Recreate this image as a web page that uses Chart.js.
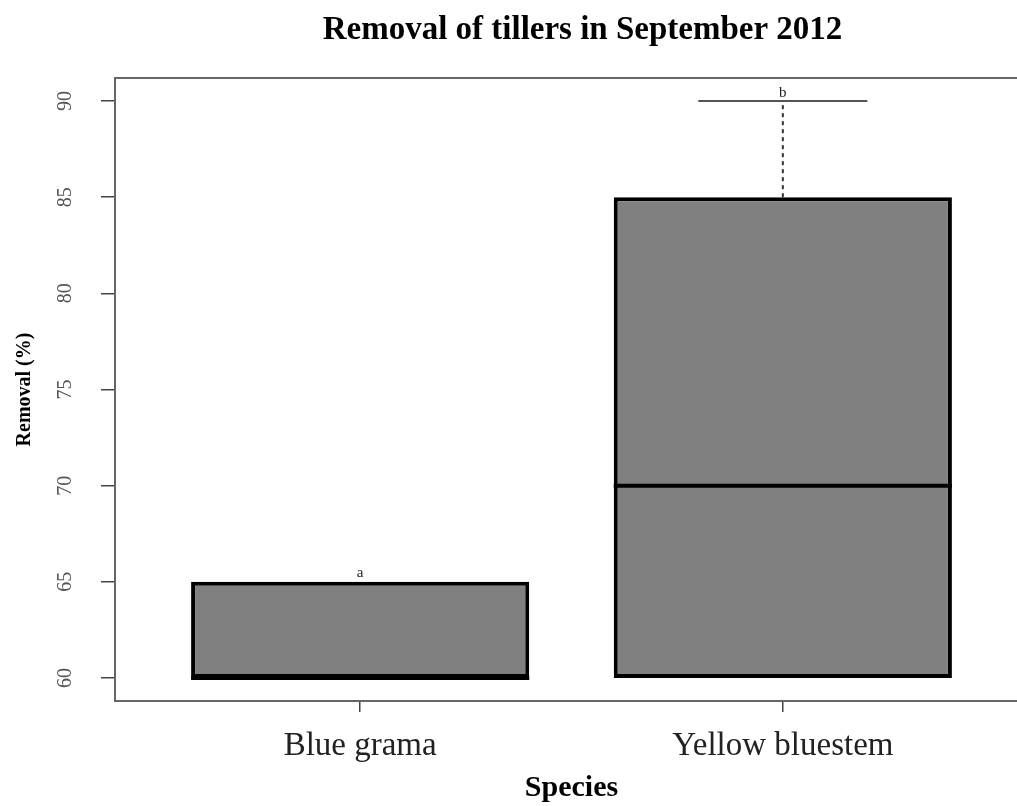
<!DOCTYPE html>
<html>
<head>
<meta charset="utf-8">
<script src="https://cdn.jsdelivr.net/npm/chart.js@4/dist/chart.umd.min.js"></script>
<style>
  html, body { margin: 0; padding: 0; background: #fff; overflow: hidden; }
  #wrap { width: 1160px; height: 806px; }
</style>
</head>
<body>
<div id="wrap"><canvas id="myChart"></canvas></div>
<script>
// box statistics
var species = ['Blue grama', 'Yellow bluestem'];
var whiskerLow = [60, 60];
var q1 = [60, 60];
var median = [60, 70];
var q3 = [65, 85];
var whiskerHigh = [65, 90];
var letters = ['a', 'b'];
var yTicks = [60, 65, 70, 75, 80, 85, 90];
var chartTitle = 'Removal of tillers in September 2012';

// R style range: 4% padding on both sides
var lo = Math.min.apply(null, whiskerLow), hi = Math.max.apply(null, whiskerHigh);
var pad = (hi - lo) * 0.04;
var xPad = species.length * 0.04;

Chart.defaults.font.family = "'Liberation Serif', 'DejaVu Serif', serif";

var boxExtras = {
  id: 'boxExtras',
  beforeDatasetsDraw: function (chart) {
    var ctx = chart.ctx;
    var y = chart.scales.y;
    var meta = chart.getDatasetMeta(0);
    ctx.save();
    meta.data.forEach(function (bar, i) {
      var half = bar.width / 2;
      // whiskers + staples, only where they stick out of the box
      [[q3[i], whiskerHigh[i]], [q1[i], whiskerLow[i]]].forEach(function (w) {
        if (w[0] === w[1]) return;
        var p0 = y.getPixelForValue(w[0]), p1 = y.getPixelForValue(w[1]);
        ctx.strokeStyle = '#333';
        ctx.lineWidth = 2;
        ctx.setLineDash([4, 4]);
        ctx.beginPath();
        ctx.moveTo(bar.x, p0);
        ctx.lineTo(bar.x, p1);
        ctx.stroke();
        ctx.setLineDash([]);
        ctx.strokeStyle = '#555';
        ctx.beginPath();
        ctx.moveTo(bar.x - half / 2, p1);
        ctx.lineTo(bar.x + half / 2, p1);
        ctx.stroke();
      });
    });
    ctx.restore();
  },
  afterDatasetsDraw: function (chart) {
    var ctx = chart.ctx;
    var y = chart.scales.y;
    var meta = chart.getDatasetMeta(0);
    ctx.save();
    meta.data.forEach(function (bar, i) {
      var half = bar.width / 2;
      // median
      ctx.strokeStyle = '#000';
      ctx.lineWidth = 4;
      ctx.beginPath();
      var my = y.getPixelForValue(median[i]);
      ctx.moveTo(bar.x - half, my);
      ctx.lineTo(bar.x + half, my);
      ctx.stroke();
      // letters
      ctx.fillStyle = '#222';
      ctx.font = "15px 'Liberation Serif', serif";
      ctx.textAlign = 'center';
      ctx.textBaseline = 'bottom';
      ctx.fillText(letters[i], bar.x, y.getPixelForValue(whiskerHigh[i]) - 1);
    });
    // plot frame
    var a = chart.chartArea;
    ctx.strokeStyle = '#666';
    ctx.lineWidth = 2;
    ctx.strokeRect(a.left, a.top, a.right - a.left, a.bottom - a.top);
    // main title
    ctx.fillStyle = '#000';
    ctx.font = "bold 33px 'Liberation Serif', serif";
    ctx.textAlign = 'center';
    ctx.textBaseline = 'alphabetic';
    ctx.fillText(chartTitle, (a.left + a.right) / 2 + 11, 39);
    ctx.restore();
  }
};

var ctx = document.getElementById('myChart').getContext('2d');
var myChart = new Chart(ctx, {
  type: 'bar',
  data: {
    datasets: [{
      data: species.map(function (s, i) { return { x: i + 1, y: [q1[i], q3[i]] }; }),
      backgroundColor: '#808080',
      borderColor: '#000',
      borderWidth: 4,
      borderSkipped: false,
      categoryPercentage: 1,
      barPercentage: 0.8
    }]
  },
  options: {
    responsive: true,
    maintainAspectRatio: false,
    animation: false,
    layout: { padding: { left: 0, right: 132, top: 78, bottom: 0 } },
    plugins: {
      legend: { display: false },
      tooltip: { enabled: false },
      title: { display: false }
    },
    scales: {
      x: {
        type: 'linear',
        offset: false,
        min: 1 - 0.5 - xPad,
        max: species.length + 0.5 + xPad,
        afterBuildTicks: function (s) { s.ticks = species.map(function (n, i) { return { value: i + 1 }; }); },
        afterFit: function (s) { s.height = 105; },
        ticks: {
          color: '#222',
          font: { size: 33 },
          padding: 15,
          maxRotation: 0,
          callback: function (v) { return species[v - 1]; }
        },
        grid: { offset: false, drawOnChartArea: false, drawTicks: true, tickLength: 11, color: '#444', lineWidth: 1.5 },
        border: { display: false },
        title: {
          display: true,
          text: 'Species',
          color: '#000',
          font: { size: 30, weight: 'bold' },
          padding: { top: 0, bottom: 0 }
        }
      },
      y: {
        min: lo - pad,
        max: hi + pad,
        afterBuildTicks: function (s) { s.ticks = yTicks.map(function (v) { return { value: v }; }); },
        afterFit: function (s) { s.width = 115; },
        ticks: {
          color: '#555',
          font: { size: 20 },
          minRotation: 90,
          maxRotation: 90,
          crossAlign: 'center',
          padding: 25
        },
        grid: { drawOnChartArea: false, drawTicks: true, tickLength: 14, color: '#444', lineWidth: 1.5 },
        border: { display: false },
        title: {
          display: true,
          text: 'Removal (%)',
          color: '#000',
          font: { size: 20, weight: 'bold' },
          padding: { top: 13, bottom: 0 }
        }
      }
    }
  },
  plugins: [boxExtras]
});
</script>
</body>
</html>
